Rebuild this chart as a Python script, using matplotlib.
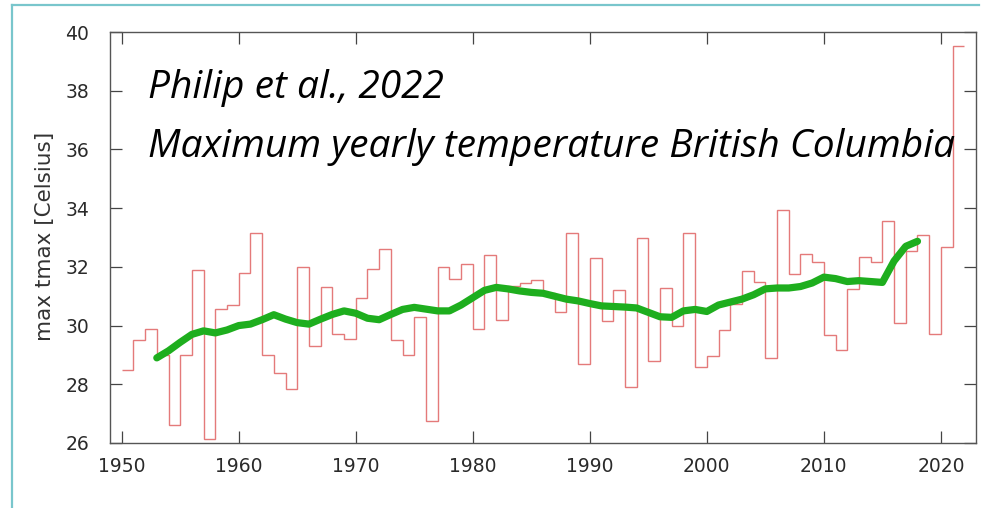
import numpy as np
import matplotlib
matplotlib.use("Agg")
import matplotlib.pyplot as plt
from matplotlib.lines import Line2D

# ---- data ----
step_years = list(range(1950, 2022))  # start year of each yearly step
tmax_values = [
    28.5, 29.5, 29.9, 29.0, 26.6, 29.0, 31.9, 26.15, 30.55, 30.7,   # 1950-1959
    31.78, 33.14, 29.0, 28.4, 27.85, 32.0, 29.3, 31.3, 29.7, 29.55,  # 1960-1969
    30.95, 31.92, 32.6, 29.5, 29.0, 30.3, 26.75, 32.0, 31.6, 32.1,   # 1970-1979
    29.9, 32.4, 30.2, 31.35, 31.45, 31.55, 31.1, 30.47, 33.15, 28.7, # 1980-1989
    32.3, 30.17, 31.2, 27.9, 33.0, 28.8, 31.27, 30.0, 33.14, 28.6,   # 1990-1999
    28.95, 29.85, 30.75, 31.87, 31.49, 28.88, 33.94, 31.75, 32.43, 32.18,  # 2000-2009
    29.68, 29.17, 31.25, 32.32, 32.15, 33.55, 30.09, 32.53, 33.1, 29.71,   # 2010-2019
    32.69, 39.53,                                                    # 2020-2021
]

smooth_years = list(range(1953, 2019))
smooth_values = [
    28.9, 29.14, 29.43, 29.7, 29.82, 29.75, 29.85,                     # 1953-1959
    30.0, 30.05, 30.2, 30.37, 30.22, 30.1, 30.05, 30.22, 30.38, 30.5,  # 1960-1969
    30.42, 30.25, 30.2, 30.38, 30.55, 30.62, 30.56, 30.5, 30.5, 30.7,  # 1970-1979
    30.95, 31.2, 31.3, 31.25, 31.18, 31.13, 31.1, 31.0, 30.9, 30.84,   # 1980-1989
    30.75, 30.67, 30.65, 30.63, 30.6, 30.45, 30.3, 30.28, 30.5, 30.55, # 1990-1999
    30.48, 30.7, 30.8, 30.9, 31.05, 31.25, 31.28, 31.28, 31.33, 31.45, # 2000-2009
    31.65, 31.6, 31.5, 31.53, 31.5, 31.47, 32.2, 32.7, 32.87,          # 2010-2018
]

x_ticks = [1950, 1960, 1970, 1980, 1990, 2000, 2010, 2020]
y_ticks = [26, 28, 30, 32, 34, 36, 38, 40]
ylabel = "max tmax [Celsius]"
title_lines = ["Philip et al., 2022", "Maximum yearly temperature British Columbia"]

# ---- figure ----
W, H = 981, 508
fig = plt.figure(figsize=(W / 100, H / 100), dpi=100)
fig.patch.set_facecolor("white")

# teal frame around the picture
frame_col = "#79c6cc"
fig.add_artist(Line2D([12 / W, 12 / W], [0, 1 - 5 / H], transform=fig.transFigure,
                      color=frame_col, lw=1.6))
fig.add_artist(Line2D([12 / W, 979 / W], [1 - 5 / H, 1 - 5 / H], transform=fig.transFigure,
                      color=frame_col, lw=1.6))

ax = fig.add_axes([110 / W, 65 / H, (976 - 110) / W, (443 - 32) / H])

edges = step_years + [step_years[-1] + 1]
ax.stairs(tmax_values, edges, baseline=None, color="#e47a7a", lw=1.0)
ax.plot(smooth_years, smooth_values, color="#1eae1e", lw=5.2,
        solid_capstyle="round", solid_joinstyle="round")

ax.set_xlim(1949, 2023)
ax.set_ylim(26, 40)
ax.set_xticks(x_ticks)
ax.set_yticks(y_ticks)
ax.tick_params(direction="in", length=8.5, width=0.9, color="#444444",
               top=True, right=True, labelsize=13.5, labelcolor="#2a2a2a")
ax.tick_params(axis="y", pad=15)
ax.tick_params(axis="x", pad=10)
for s in ax.spines.values():
    s.set_color("#555555")
    s.set_linewidth(1.0)

fig.text(45 / W, 1 - 236 / H, ylabel, rotation=90, ha="center", va="center",
         fontsize=15.5, color="#333333")

for txt, yc in zip(title_lines, [88, 147]):
    ax.text(148 / W, 1 - yc / H, txt, transform=fig.transFigure,
            fontsize=28, style="italic", family="Open Sans", color="black",
            ha="left", va="center")

fig.savefig("out.png", dpi=100)
